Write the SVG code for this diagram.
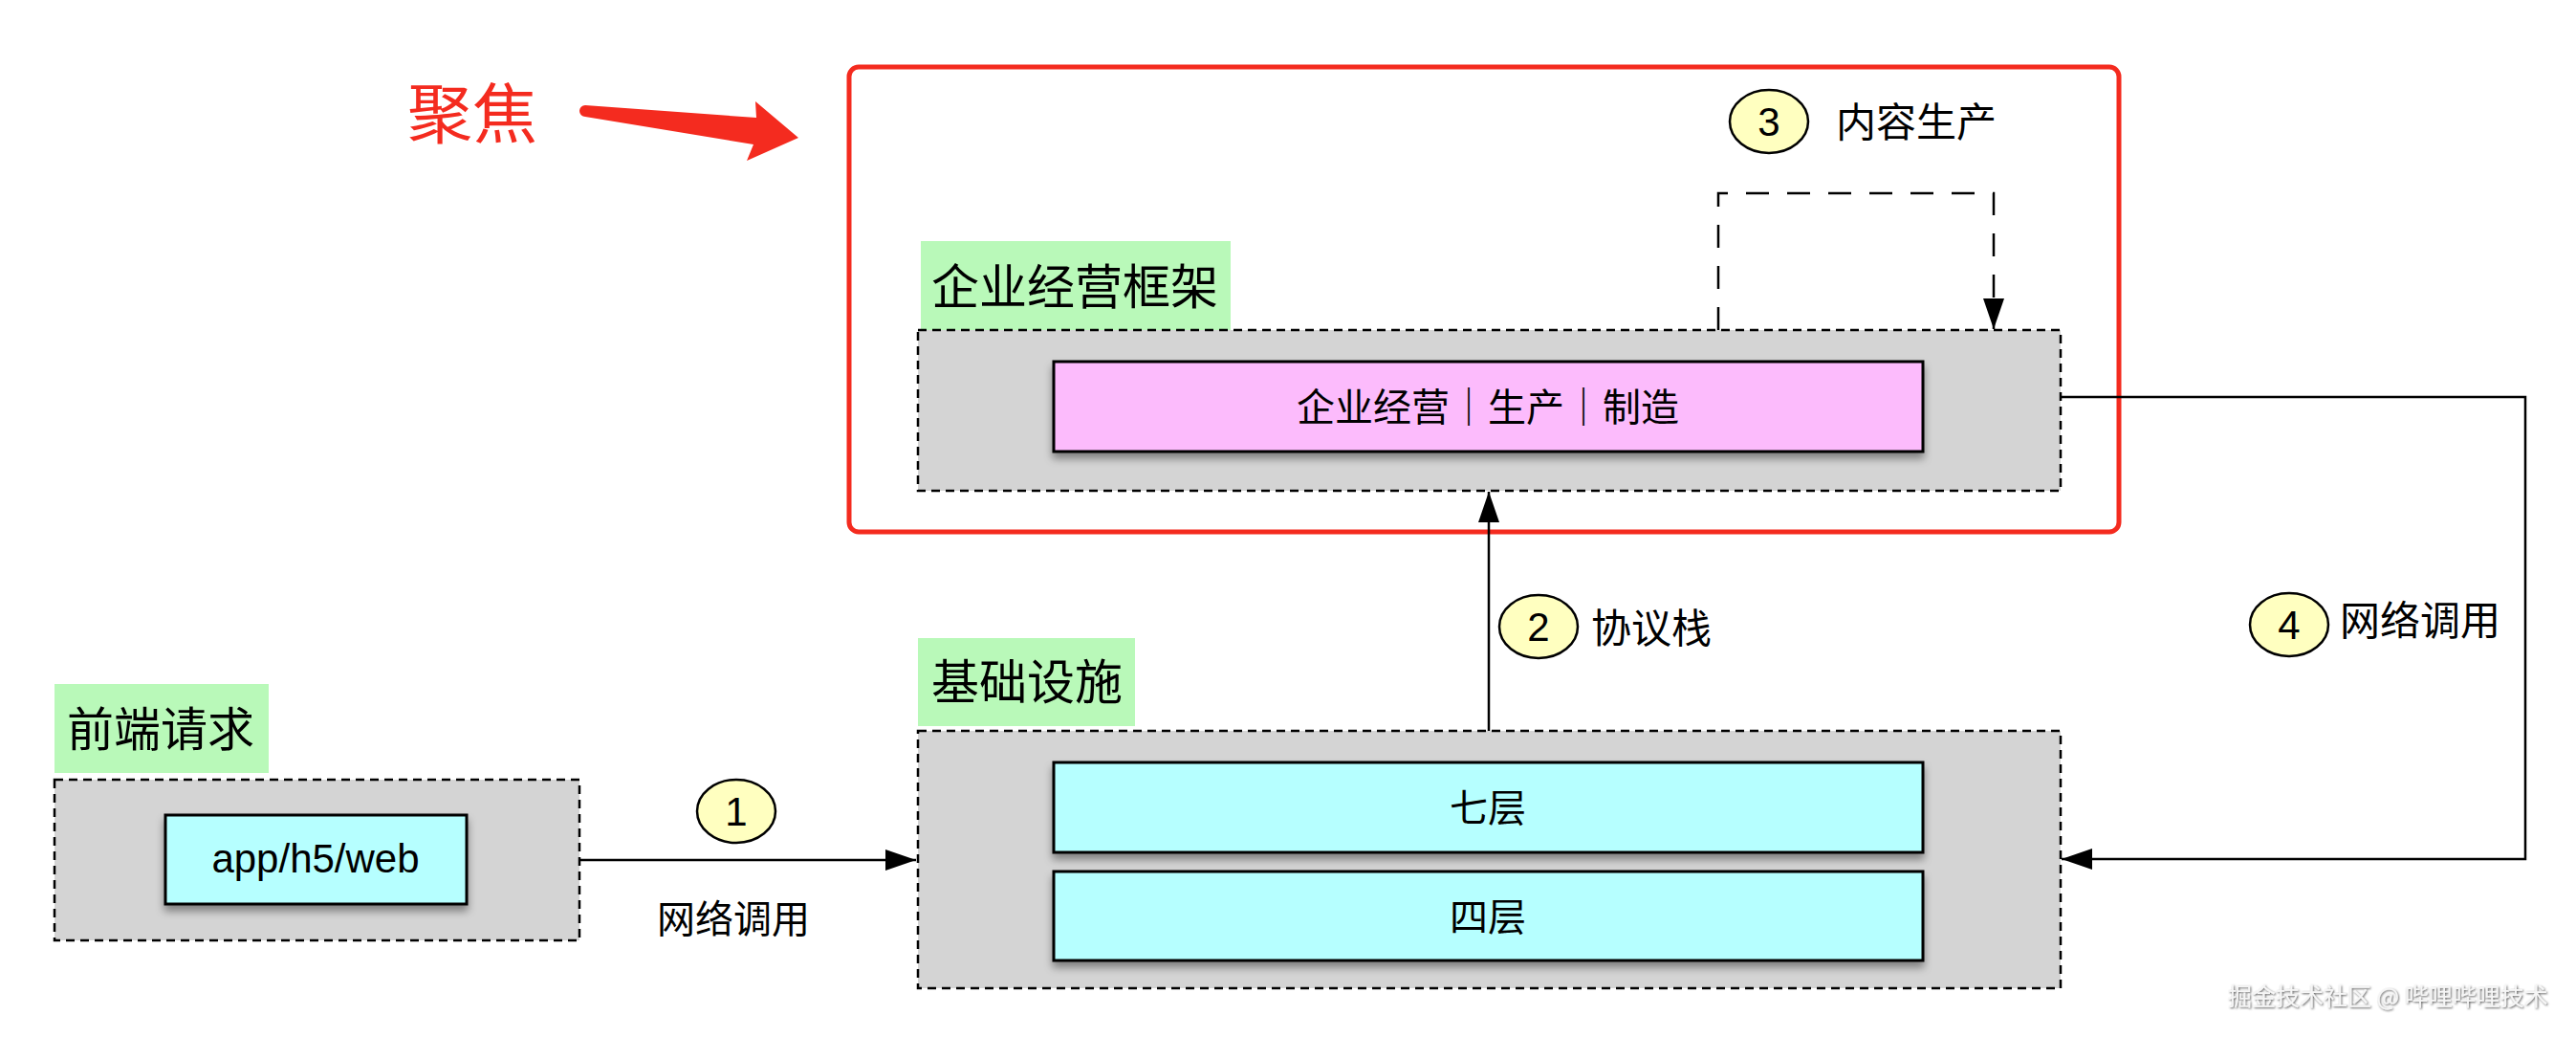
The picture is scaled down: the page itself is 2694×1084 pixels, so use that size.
<svg xmlns="http://www.w3.org/2000/svg" width="2694" height="1084" viewBox="0 0 2694 1084">
<style>
.cjk{font-family:"Noto Sans CJK SC","Noto Sans",sans-serif;fill:#000}
.lat{font-family:"Liberation Sans",Arial,sans-serif;fill:#000}
.container{fill:#D4D4D4;stroke:#000;stroke-width:2.5;stroke-dasharray:9 6}
.label{fill:#B9F9B9}
.inner{stroke:#000;stroke-width:3;filter:url(#sh)}
.cyan{fill:#B6FFFF}
.pink{fill:#FCBBFC}
.badge{fill:#FFFFC0;stroke:#000;stroke-width:2.5}
.conn{fill:none;stroke:#000;stroke-width:2.5}
</style>
<defs>
<filter id="sh" x="-10%" y="-20%" width="120%" height="160%">
<feDropShadow dx="0" dy="6" stdDeviation="4" flood-color="#000" flood-opacity="0.4"/>
</filter>
<filter id="wm" x="-5%" y="-30%" width="110%" height="160%">
<feDropShadow dx="1" dy="1" stdDeviation="0.8" flood-color="#444" flood-opacity="0.9"/>
</filter>
<marker id="ah" markerUnits="userSpaceOnUse" markerWidth="34" markerHeight="24" refX="32" refY="11" orient="auto">
<path d="M0,0 L32,11 L0,22 Z" fill="#000"/>
</marker>
</defs>
<rect width="2694" height="1084" fill="#fff"/>

<g id="focus-annotation">
<text class="cjk" x="494" y="144" font-size="68" text-anchor="middle" style="fill:#F42B1F">聚焦</text>
<path d="M612,110 L791,123 L790,106 L835,144 L781,168 L788,151 L612,122 A6,6 0 0 1 612,110 Z" fill="#F42B1F"/>
</g>

<g id="focus-box">
<rect x="888" y="70" width="1328" height="486" rx="10" fill="none" stroke="#F42B1F" stroke-width="5"/>
</g>

<g id="connectors">
<line class="conn" x1="606" y1="899" x2="958" y2="899" marker-end="url(#ah)"/>
<line class="conn" x1="1557" y1="764" x2="1557" y2="514" marker-end="url(#ah)"/>
<path class="conn" d="M1797,345 L1797,202 L2085,202 L2085,344" stroke-width="5" stroke-dasharray="24 19" marker-end="url(#ah)"/>
<path class="conn" d="M2155,415 L2641,415 L2641,898 L2156,898" marker-end="url(#ah)"/>
</g>

<g id="enterprise-framework">
<rect class="label" x="963" y="252" width="324" height="93"/>
<text class="cjk" x="1124" y="318" font-size="50" text-anchor="middle">企业经营框架</text>
<rect class="container" x="960" y="345" width="1195" height="168"/>
<g id="enterprise-ops">
<rect class="inner pink" x="1102" y="378" width="909" height="94"/>
<text class="cjk" x="1556" y="440" font-size="40" text-anchor="middle">企业经营｜生产｜制造</text>
</g>
</g>

<g id="infrastructure">
<rect class="label" x="960" y="667" width="227" height="92"/>
<text class="cjk" x="1074" y="731" font-size="50" text-anchor="middle">基础设施</text>
<rect class="container" x="960" y="764" width="1195" height="269"/>
<g id="layer7">
<rect class="inner cyan" x="1102" y="797" width="909" height="94"/>
<text class="cjk" x="1556" y="859" font-size="40" text-anchor="middle">七层</text>
</g>
<g id="layer4">
<rect class="inner cyan" x="1102" y="911" width="909" height="93"/>
<text class="cjk" x="1556" y="973" font-size="40" text-anchor="middle">四层</text>
</g>
</g>

<g id="frontend">
<rect class="label" x="57" y="715" width="224" height="93"/>
<text class="cjk" x="168" y="780" font-size="49" text-anchor="middle">前端请求</text>
<rect class="container" x="57" y="815" width="549" height="168"/>
<g id="app">
<rect class="inner cyan" x="173" y="852" width="315" height="93"/>
<text class="lat" x="330" y="912" font-size="42" text-anchor="middle">app/h5/web</text>
</g>
</g>

<g id="step1">
<ellipse class="badge" cx="770" cy="848" rx="41" ry="33"/>
<text class="lat" x="770" y="863" font-size="42" text-anchor="middle">1</text>
<text class="cjk" x="767" y="975" font-size="40" text-anchor="middle">网络调用</text>
</g>
<g id="step2">
<ellipse class="badge" cx="1609" cy="655" rx="41" ry="33"/>
<text class="lat" x="1609" y="670" font-size="42" text-anchor="middle">2</text>
<text class="cjk" x="1664" y="672" font-size="42">协议栈</text>
</g>
<g id="step3">
<ellipse class="badge" cx="1850" cy="127" rx="41" ry="33"/>
<text class="lat" x="1850" y="142" font-size="42" text-anchor="middle">3</text>
<text class="cjk" x="1920" y="143" font-size="42">内容生产</text>
</g>
<g id="step4">
<ellipse class="badge" cx="2394" cy="653" rx="41" ry="33"/>
<text class="lat" x="2394" y="668" font-size="42" text-anchor="middle">4</text>
<text class="cjk" x="2447" y="664" font-size="42">网络调用</text>
</g>

<g id="watermark">
<text x="2330" y="1051" font-size="25" style="font-family:'Noto Sans CJK SC',sans-serif;fill:#f6f6f6" filter="url(#wm)">掘金技术社区 @ 哔哩哔哩技术</text>
</g>
</svg>
